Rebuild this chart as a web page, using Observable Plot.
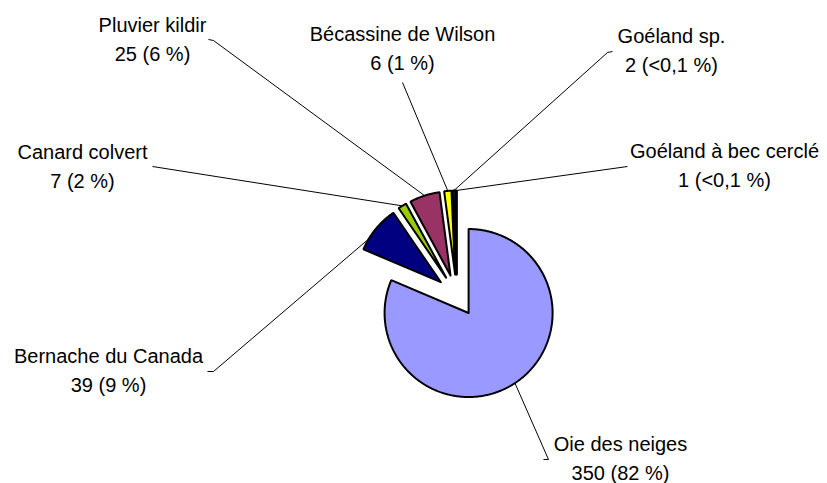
<!DOCTYPE html>
<html><head><meta charset="utf-8">
<script src="https://cdn.jsdelivr.net/npm/d3@7"></script>
<script src="https://cdn.jsdelivr.net/npm/@observablehq/plot@0.6"></script>
<style>body{margin:0;background:#fff}</style>
</head><body><div id="chart"></div>
<script>
// ---- data ----
const species = ["Oie des neiges","Bernache du Canada","Canard colvert","Pluvier kildir","Bécassine de Wilson","Goéland sp.","Goéland à bec cerclé"];
const counts = [350, 39, 7, 25, 6, 2, 1];
const pctLabels = ["82 %","9 %","2 %","6 %","1 %","<0,1 %","<0,1 %"];

// ---- style / layout ----
const colors = ["#9999FF","#000080","#99CC00","#993366","#FFFF00","#0066CC","#333333"];
const W = 827, H = 483, CX = 456.5, CY = 295, R = 84, EXPLODE = 0.25;
const labelPos = [[620,456],[108,368],[82,164],[152,37],[402,46],[671,48],[724,163]];
const leaderStart = [[[543,459],[548,459]], [[207,371],[213,371]], [[152,166]], [[208,39],[213,40]], [[402,82]], [[612,51],[607,52]], [[627,166]]];
const leaderAngle = [null, 301, null, null, null, null, null];

const toU = ([px, py]) => [(px - CX) / R, (CY - py) / R];
const rad = d => d * Math.PI / 180;
const total = d3.sum(counts);

const slices = [];
const leaders = [];
const labels = [];
let acc = 0;
species.forEach((name, i) => {
  const a0 = acc / total * 360;
  acc += counts[i];
  const a1 = acc / total * 360;
  const mid = (a0 + a1) / 2;
  const cx = Math.sin(rad(mid)) * EXPLODE, cy = Math.cos(rad(mid)) * EXPLODE;
  slices.push({name, x: cx, y: cy});
  const n = Math.max(2, Math.ceil((a1 - a0) / 0.5));
  for (let k = 0; k <= n; k++) {
    const a = a0 + (a1 - a0) * k / n;
    slices.push({name, x: cx + Math.sin(rad(a)), y: cy + Math.cos(rad(a))});
  }
  slices.push({name, x: cx, y: cy});
  // leader
  const la = leaderAngle[i] ?? mid;
  leaderStart[i].forEach(p => { const [x, y] = toU(p); leaders.push({name, x, y}); });
  leaders.push({name, x: cx + Math.sin(rad(la)), y: cy + Math.cos(rad(la))});
  const [lx, ly] = toU(labelPos[i]);
  labels.push({name, x: lx, y: ly, text: `${name}\n${counts[i]} (${pctLabels[i]})`});
});

const chart = Plot.plot({
  width: W, height: H,
  margin: 0,
  x: {domain: [-CX / R, (W - CX) / R], axis: null},
  y: {domain: [-(H - CY) / R, CY / R], axis: null},
  color: {domain: species, range: colors},
  style: {fontFamily: "'Liberation Sans', Arial, sans-serif", background: "#fff"},
  marks: [
    Plot.line(leaders, {x: "x", y: "y", z: "name", stroke: "black", strokeWidth: 1, strokeLinejoin: "miter", strokeLinecap: "butt"}),
    Plot.line(slices, {x: "x", y: "y", z: "name", fill: "name", stroke: "black", strokeWidth: 2, strokeLinejoin: "miter"}),
    Plot.text(labels, {x: "x", y: "y", text: "text", fontSize: 20, lineHeight: 1.45, fill: "black"})
  ]
});
document.getElementById("chart").appendChild(chart);
</script>
</body></html>
